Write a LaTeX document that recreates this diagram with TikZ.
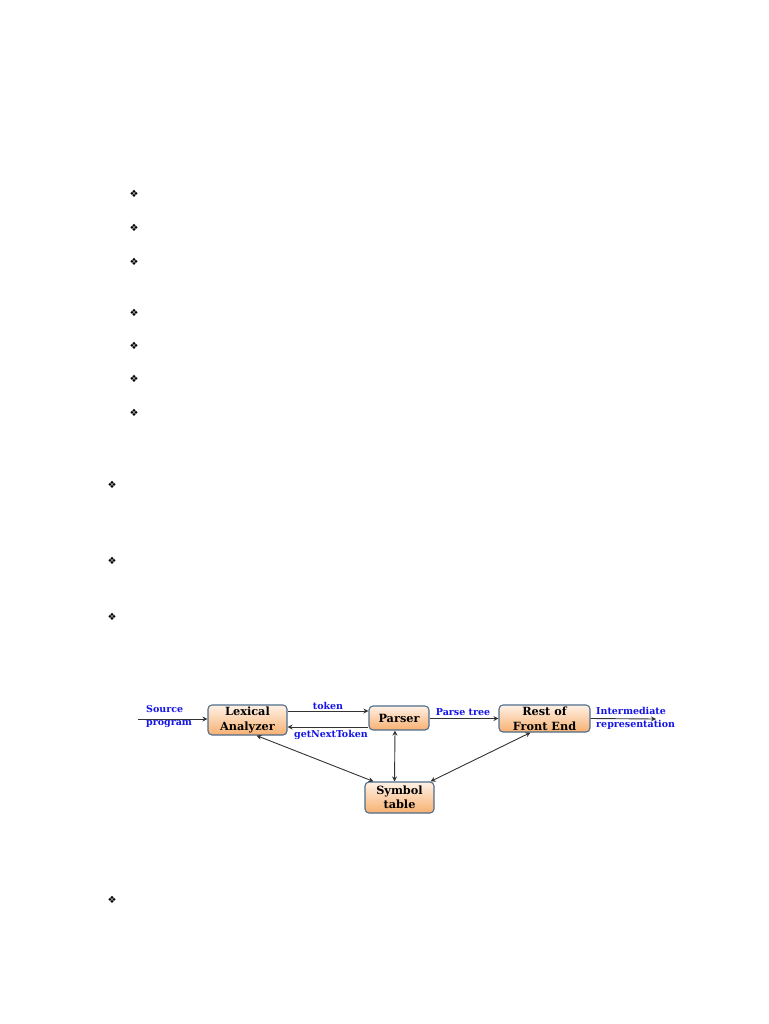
\documentclass[tikz,border=0pt]{standalone}
\usepackage{fontspec}
\setmainfont{DejaVu Serif}
\newfontfamily\symfont{DejaVu Sans}
\usetikzlibrary{arrows.meta}
\definecolor{boxtop}{HTML}{FFF1E6}
\definecolor{boxbot}{HTML}{F7B070}
\definecolor{boxline}{HTML}{4F6D8C}
\definecolor{lblue}{HTML}{1414E6}
\definecolor{arr}{HTML}{333333}
\tikzset{
  bul/.style={font=\symfont\fontsize{10}{10}\selectfont, inner sep=0pt},
  phase/.style={draw=boxline, line width=1.1pt, rounded corners=4pt, top color=boxtop, bottom color=boxbot,
    font=\bfseries\fontsize{11.3}{15}\selectfont, align=center, inner sep=0pt},
  lbl/.style={text=lblue, font=\bfseries\fontsize{9.5}{13}\selectfont, inner sep=0pt, align=left},
  conn/.style={draw=arr, line width=0.9pt, -{Stealth[length=5pt,width=5pt]}},
  dconn/.style={draw=arr, line width=0.9pt, {Stealth[length=5pt,width=5pt]}-{Stealth[length=5pt,width=5pt]}}
}
\begin{document}
\begin{tikzpicture}[x=1pt,y=-1pt]
\useasboundingbox (0,0) rectangle (768,1024);
% bullets
\node[bul] (b1) at (134,194) {❖};
\node[bul] (b2) at (134,228) {❖};
\node[bul] (b3) at (134,262) {❖};
\node[bul] (b4) at (134,313) {❖};
\node[bul] (b5) at (134,346) {❖};
\node[bul] (b6) at (134,379) {❖};
\node[bul] (b7) at (134,413) {❖};
\node[bul] (b8) at (112,485) {❖};
\node[bul] (b9) at (112,561) {❖};
\node[bul] (b10) at (112,617) {❖};
\node[bul] (b11) at (112,900) {❖};
% boxes
\node[phase, minimum width=79pt, minimum height=30pt] (lex) at (247.5,720) {Lexical\\Analyzer};
\node[phase, minimum width=60pt, minimum height=24pt] (par) at (399,718) {Parser};
\node[phase, minimum width=91pt, minimum height=27pt] (rest) at (544.5,718.5) {Rest of\\Front End};
\node[phase, minimum width=69pt, minimum height=31pt, font=\bfseries\fontsize{11.3}{13.5}\selectfont] (sym) at (399.5,797.5) {Symbol\\table};
% helper coordinates
\coordinate (src) at (138,719);
\coordinate (out) at (656,719);
\path (lex.east) ++(0,-9) coordinate (tokA);
\path (lex.east) ++(0,7) coordinate (gntB);
\path (lex.south) ++(9,0) coordinate (lexS);
\path (sym.north) ++(-26,0) coordinate (symA);
\path (par.south) ++(-4,0) coordinate (parS);
\path (sym.north) ++(-5,0) coordinate (symB);
\path (rest.south) ++(-14,0) coordinate (restS);
\path (sym.north) ++(31,0) coordinate (symC);
% connectors
\draw[conn] (src) -- (lex.west |- src);
\node[lbl, anchor=west] (srcl) at (146,717) {Source\\program};
\draw[conn] (tokA) -- (par.west |- tokA);
\node[lbl] (tokl) at (328,705.5) {token};
\draw[conn] (par.west |- gntB) -- (gntB);
\node[lbl] (gntl) at (331,734.5) {getNextToken};
\draw[conn] (par.east |- rest.west) -- (rest.west);
\node[lbl] (ptl) at (463,712) {Parse tree};
\draw[conn] (rest.east) -- (out);
\node[lbl, anchor=west] (irl) at (596,718.5) {Intermediate\\representation};
% symbol table links
\draw[dconn] (lexS) -- (symA);
\draw[dconn] (parS) -- (symB);
\draw[dconn] (restS) -- (symC);
\end{tikzpicture}
\end{document}
